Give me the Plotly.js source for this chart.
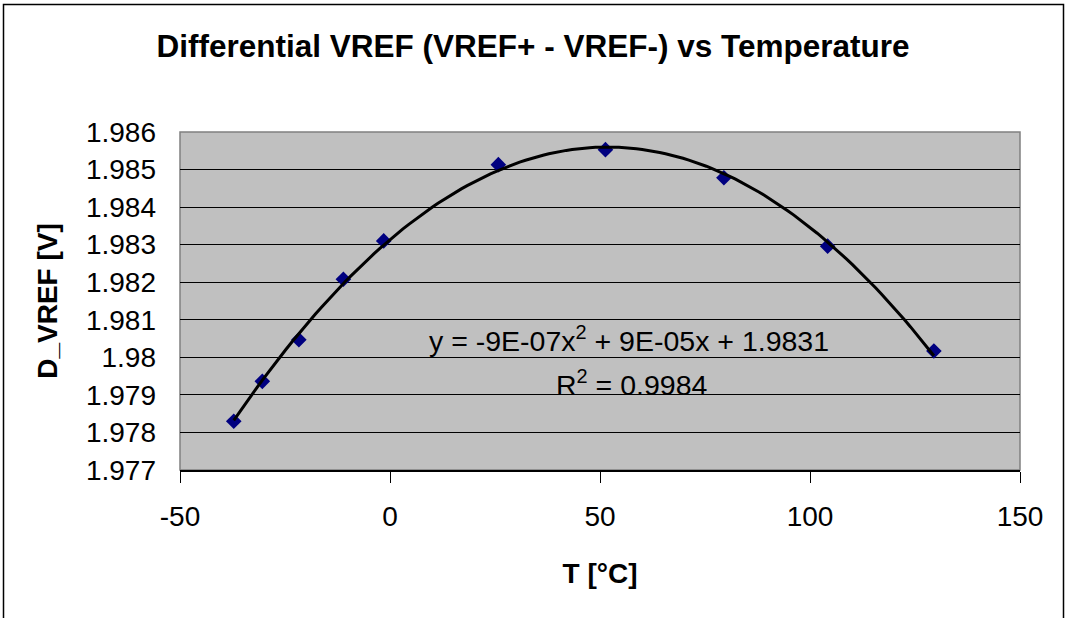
<!DOCTYPE html>
<html>
<head>
<meta charset="utf-8">
<script src="https://cdn.plot.ly/plotly-3.0.1.min.js"></script>
<style>html,body{margin:0;padding:0;background:#fff;}#chart{width:1066px;height:618px;}</style>
</head>
<body>
<div id="chart"></div>
<script>
// Measured data (T in °C, differential VREF in V)
var temperature = [-37.2, -30.4, -21.7, -11.1, -1.5, 25.8, 51.3, 79.5, 104.2, 129.5];
var dVref = [1.97830, 1.97936, 1.98047, 1.98208, 1.98310, 1.98513, 1.98553, 1.98478, 1.98296, 1.98017];

var xTickVals = [-50, 0, 50, 100, 150];
var xTickText = ["-50", "0", "50", "100", "150"];
var yTickVals = [1.977, 1.978, 1.979, 1.980, 1.981, 1.982, 1.983, 1.984, 1.985, 1.986];
var yTickText = ["1.977", "1.978", "1.979", "1.98", "1.981", "1.982", "1.983", "1.984", "1.985", "1.986"];

var titleText = "Differential VREF (VREF+ - VREF-) vs Temperature";
var xTitle = "T [°C]";
var yTitle = "D_VREF [V]";
var eqText = "y = -9E-07x<sup>2</sup> + 9E-05x + 1.9831";
var r2Text = "R<sup>2</sup> = 0.9984";

// Polynomial (order 2) least-squares trendline fitted to the measured data
function polyFit2(xs, ys) {
  var n = xs.length, s = [0,0,0,0,0], t = [0,0,0];
  for (var i = 0; i < n; i++) {
    var p = 1;
    for (var k = 0; k < 5; k++) { s[k] += p; if (k < 3) t[k] += p * ys[i]; p *= xs[i]; }
  }
  var A = [[s[0], s[1], s[2], t[0]], [s[1], s[2], s[3], t[1]], [s[2], s[3], s[4], t[2]]];
  for (var c = 0; c < 3; c++) {
    for (var r = c + 1; r < 3; r++) {
      var f = A[r][c] / A[c][c];
      for (var j = c; j < 4; j++) A[r][j] -= f * A[c][j];
    }
  }
  var b = [0,0,0];
  for (var r2 = 2; r2 >= 0; r2--) {
    var v = A[r2][3];
    for (var j2 = r2 + 1; j2 < 3; j2++) v -= A[r2][j2] * b[j2];
    b[r2] = v / A[r2][r2];
  }
  return b; // c0, c1, c2
}
var coef = polyFit2(temperature, dVref);
var xMin = Math.min.apply(null, temperature), xMax = Math.max.apply(null, temperature);
var trendX = [], trendY = [];
var nSteps = 120;
for (var i = 0; i <= nSteps; i++) {
  var xv = xMin + (xMax - xMin) * i / nSteps;
  trendX.push(xv);
  trendY.push(coef[0] + coef[1] * xv + coef[2] * xv * xv);
}

var FONT = "Liberation Sans, Arial, sans-serif";

var traces = [
  {
    x: temperature, y: dVref, type: "scatter", mode: "markers",
    marker: {symbol: "diamond", size: 12, color: "#000080", line: {width: 0}},
    hoverinfo: "x+y", showlegend: false
  },
  {
    x: trendX, y: trendY, type: "scatter", mode: "lines",
    line: {color: "#000000", width: 3},
    hoverinfo: "skip", showlegend: false
  }
];

var L = 180, R = 46, T = 132, B = 148, W = 1066, H = 618;
var pw = W - L - R, ph = H - T - B;
function px2paperX(p) { return (p - L) / pw; }
function px2paperY(p) { return (H - B - p) / ph; }

var layout = {
  width: W, height: H,
  margin: {l: L, r: R, t: T, b: B, pad: 0},
  paper_bgcolor: "#ffffff",
  plot_bgcolor: "#c0c0c0",
  font: {family: FONT, color: "#000000", size: 28},
  title: {
    text: titleText,
    font: {family: FONT, size: 31.5, weight: "bold", color: "#000"},
    x: 0.5, xref: "container", xanchor: "center",
    y: 1 - 46 / H, yref: "container", yanchor: "middle"
  },
  xaxis: {
    range: [-50, 150],
    tickvals: xTickVals, ticktext: xTickText,
    ticks: "outside", ticklen: 11, tickwidth: 1, tickcolor: "#000",
    showgrid: false, zeroline: false,
    showline: true, linecolor: "#000", linewidth: 1.5,
    tickfont: {family: FONT, size: 28},
    ticklabelstandoff: 10,
    title: {text: xTitle, font: {family: FONT, size: 28, weight: "bold"}, standoff: 32},
    fixedrange: true
  },
  yaxis: {
    range: [1.977, 1.986],
    tickvals: yTickVals, ticktext: yTickText,
    ticks: "", showgrid: true, gridcolor: "#000000", gridwidth: 1,
    zeroline: false, showline: false,
    tickfont: {family: FONT, size: 28},
    ticklabelstandoff: 23,
    title: {text: yTitle, font: {family: FONT, size: 28, weight: "bold"}, standoff: 20},
    fixedrange: true
  },
  shapes: [
    {type: "rect", xref: "paper", yref: "paper", x0: 0, x1: 1, y0: 0, y1: 1,
     line: {color: "#808080", width: 1.5}, fillcolor: "rgba(0,0,0,0)", layer: "below"},
    {type: "rect", xref: "paper", yref: "paper",
     x0: px2paperX(3.5), x1: px2paperX(1063.5), y0: px2paperY(640), y1: px2paperY(4.5),
     line: {color: "#000000", width: 1.5}, fillcolor: "rgba(0,0,0,0)", layer: "above"}
  ],
  annotations: [
    {text: eqText, xref: "paper", yref: "paper", x: px2paperX(628.5), y: px2paperY(339),
     xanchor: "center", yanchor: "middle", showarrow: false, font: {family: FONT, size: 28.5}},
    {text: r2Text, xref: "paper", yref: "paper", x: px2paperX(631.5), y: px2paperY(383),
     xanchor: "center", yanchor: "middle", showarrow: false, font: {family: FONT, size: 28.5}}
  ],
  showlegend: false
};

Plotly.newPlot("chart", traces, layout, {staticPlot: true, displayModeBar: false});
</script>
</body>
</html>
